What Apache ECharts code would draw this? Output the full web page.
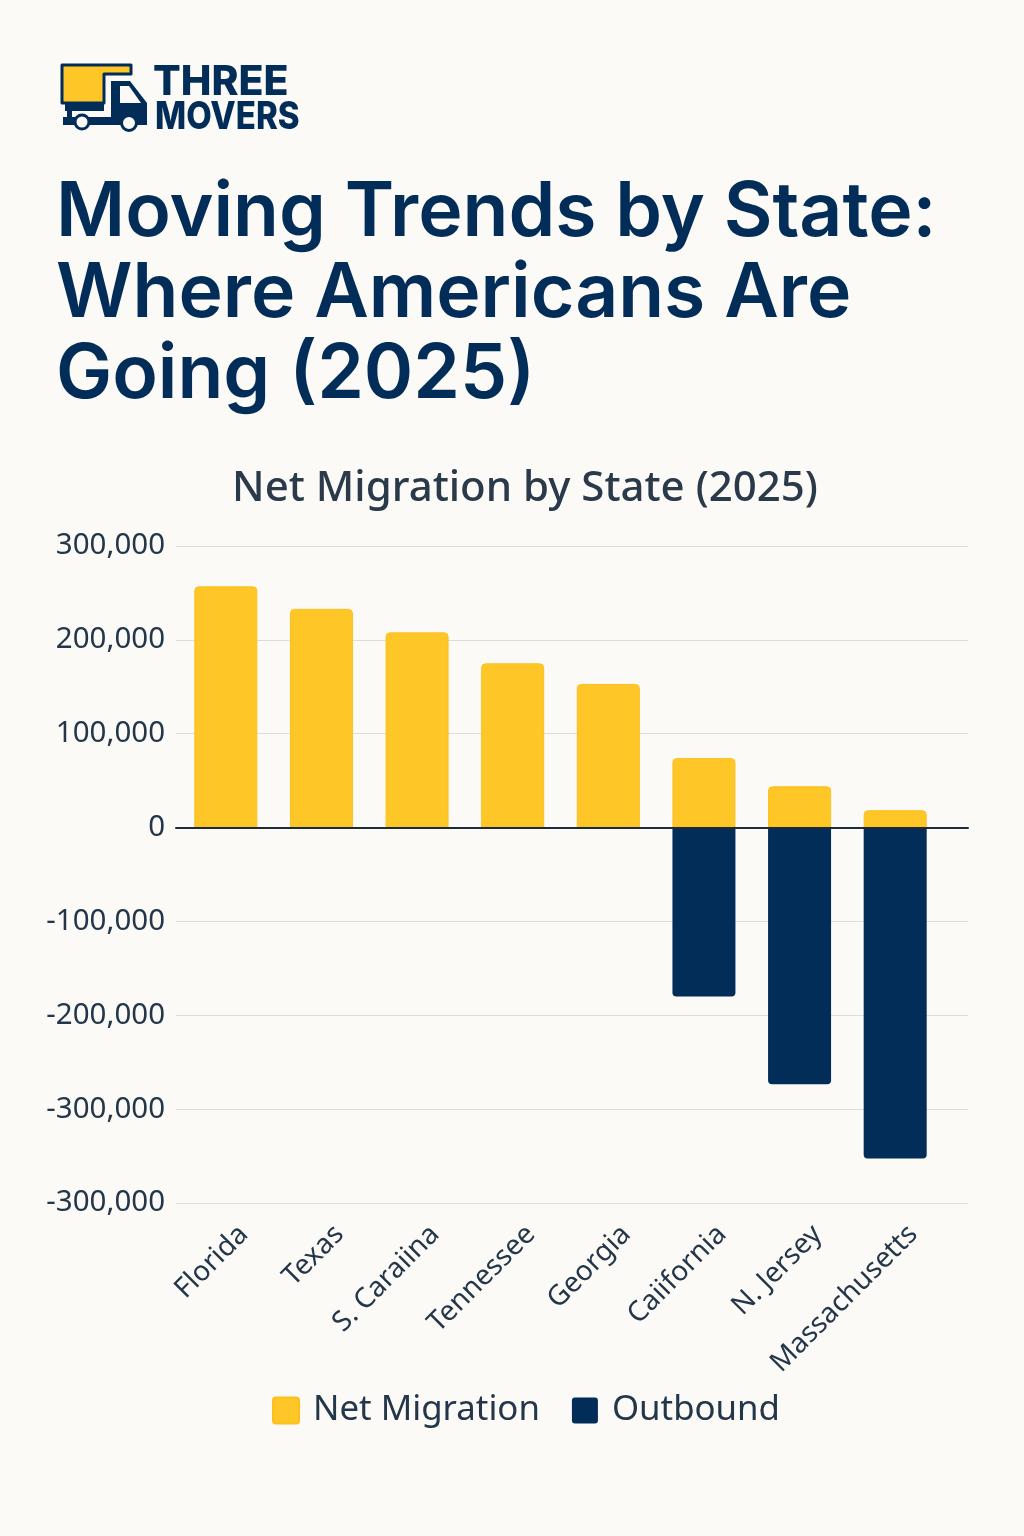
<!DOCTYPE html>
<html>
<head>
<meta charset="utf-8">
<title>Moving Trends by State</title>
<script src="https://cdn.jsdelivr.net/npm/echarts@6/dist/echarts.min.js"></script>
<style>
    html, body { margin: 0; padding: 0; background: #fbfaf6; }
    #main { width: 1024px; height: 1536px; }
</style>
</head>
<body>
<div id="main"></div>
<script>
var states = ['Florida', 'Texas', 'S. Caraiina', 'Tennessee', 'Georgia', 'Caiifornia', 'N. Jersey', 'Massachusetts'];
var netMigration = [257000, 233000, 208000, 175000, 153000, 74000, 44000, 18500];
var outbound = [null, null, null, null, null, -180000, -273500, -352500];
// the last label really does read -300,000 in the picture
var yTickLabels = ['-300,000', '-300,000', '-200,000', '-100,000', '0', '100,000', '200,000', '300,000'];
var titleLines = ['Moving Trends by State:', 'Where Americans Are', 'Going (2025)'];

var NAVY = '#022d58';
var YELLOW = '#ffc627';
var INK = '#24364a';
var SWATCH = 'path://M3,0H23Q26,0 26,3V23Q26,26 23,26H3Q0,26 0,23V3Q0,0 3,0Z';

// truck + wordmark top left
var logo = [
    { type: 'polygon', shape: { points: [[62, 65], [131, 65], [131, 74], [104, 74], [104, 103], [62, 103]] },
        style: { fill: YELLOW, stroke: NAVY, lineWidth: 3, lineJoin: 'round' } },
    { type: 'rect', shape: { x: 65, y: 103, width: 39, height: 8 }, style: { fill: NAVY } },
    { type: 'rect', shape: { x: 67, y: 110, width: 5, height: 8 }, style: { fill: NAVY } },
    { type: 'polygon', shape: { points: [[111, 81], [130, 81], [147, 103], [147, 124], [111, 124]] }, style: { fill: NAVY } },
    { type: 'polygon', shape: { points: [[120, 86], [129, 86], [141, 103], [120, 103]] }, style: { fill: '#fbfaf6' } },
    { type: 'rect', shape: { x: 63, y: 117, width: 84, height: 8 }, style: { fill: NAVY } },
    { type: 'circle', shape: { cx: 82, cy: 122, r: 7 }, style: { fill: '#fbfaf6', stroke: NAVY, lineWidth: 3 } },
    { type: 'circle', shape: { cx: 129, cy: 123, r: 7.5 }, style: { fill: '#fbfaf6', stroke: NAVY, lineWidth: 3 } },
    { type: 'text', x: 153, y: 62, style: { text: 'THREE', font: '800 41px Inter', fill: NAVY } },
    { type: 'text', x: 155, y: 99, scaleX: 0.87, style: { text: 'MOVERS', font: '800 38px Inter', fill: NAVY } }
];

var titles = [];
for (var i in titleLines) {
    titles.push({
        text: titleLines[i],
        left: 51,
        top: 171 + i * 81,
        textStyle: { fontFamily: 'Inter', fontSize: 75, fontWeight: 600, color: NAVY }
    });
}
titles.push({
    text: 'Net Migration by State (2025)',
    left: 520,
    top: 463,
    textAlign: 'center',
    textStyle: { fontFamily: 'Noto Sans', fontSize: 42, fontWeight: 500, color: '#2b3a4a' }
});

var chartDom = document.getElementById('main');
var myChart = echarts.init(chartDom);

var option = {
    backgroundColor: '#fbfaf6',
    animation: false,
    title: titles,
    graphic: logo,
    legend: {
        left: 267,
        top: 1388,
        itemWidth: 26,
        itemHeight: 26,
        itemGap: 32,
        icon: SWATCH,
        data: ['Net Migration', 'Outbound'],
        textStyle: { fontFamily: 'Noto Sans', fontSize: 34.8, color: INK, padding: [0, 0, 0, 9] }
    },
    // grid 0 draws the long gridlines, grid 1 holds the narrower bar bands,
    // grid 2 only carries the rotated state names, a bit to the right of the bars
    grid: [
        { left: 176, top: 546, width: 792, height: 657 },
        { left: 178, top: 546, width: 765, height: 657 },
        { left: 196, top: 546, width: 765, height: 657 }
    ],
    xAxis: [
        {
            gridIndex: 0, type: 'category', data: states,
            axisLine: { onZero: true, lineStyle: { color: '#1c2b3a', width: 2 } },
            axisTick: { show: false }, axisLabel: { show: false }, splitLine: { show: false }, z: 5
        },
        {
            gridIndex: 1, type: 'category', data: states,
            axisLine: { show: false }, axisTick: { show: false }, axisLabel: { show: false }
        },
        {
            gridIndex: 2, type: 'category', data: states,
            axisLine: { show: false }, axisTick: { show: false },
            axisLabel: { interval: 0, rotate: 45, margin: 27, fontFamily: 'Noto Sans', fontSize: 28, color: INK }
        }
    ],
    yAxis: [
        {
            gridIndex: 0, type: 'value', min: -400000, max: 300000, interval: 100000,
            axisLine: { show: false }, axisTick: { show: false },
            splitLine: { lineStyle: { color: '#dcdedb', width: 1 } },
            axisLabel: {
                margin: 11, fontFamily: 'Noto Sans', fontSize: 29.5, color: INK, padding: [8, 0, 0, 0],
                formatter: function (value) {
                    return yTickLabels[(value + 400000) / 100000];
                }
            }
        },
        { gridIndex: 1, type: 'value', min: -400000, max: 300000, interval: 100000, show: false },
        { gridIndex: 2, type: 'value', min: -400000, max: 300000, interval: 100000, show: false }
    ],
    series: [
        {
            name: 'Net Migration', type: 'bar', stack: 'state', xAxisIndex: 1, yAxisIndex: 1,
            barWidth: 63, data: netMigration, z: 3,
            itemStyle: { color: YELLOW, borderColor: '#fcbf1c', borderWidth: 1, borderRadius: [4, 4, 0, 0] }
        },
        {
            name: 'Outbound', type: 'bar', stack: 'state', xAxisIndex: 1, yAxisIndex: 1,
            barWidth: 63, data: outbound, z: 3,
            itemStyle: { color: NAVY, borderRadius: [0, 0, 4, 4] }
        }
    ]
};

myChart.setOption(option);
</script>
</body>
</html>
